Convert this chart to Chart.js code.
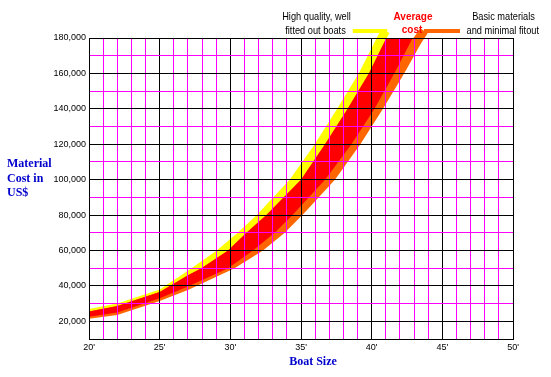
<!DOCTYPE html>
<html>
<head>
<meta charset="utf-8">
<script src="https://cdn.jsdelivr.net/npm/chart.js@4.4.1/dist/chart.umd.min.js"></script>
<style>
html,body{margin:0;padding:0;background:#fff;}
#wrap{width:551px;height:377px;}
</style>
</head>
<body>
<div id="wrap"><canvas id="c" width="551" height="377"></canvas></div>
<script>
// ---------- data ----------
const sizeTickValues = [20, 25, 30, 35, 40, 45, 50];
const sizeTickLabels = ["20'", "25'", "30'", "35'", "40'", "45'", "50'"];
const costTickValues = [20000, 40000, 60000, 80000, 100000, 120000, 140000, 160000, 180000];
const costTickLabels = ["20,000", "40,000", "60,000", "80,000", "100,000", "120,000", "140,000", "160,000", "180,000"];

// High quality band, upper edge
const highQualityTopSize = [20, 22, 25, 27, 29.04, 30.52, 31.87, 34.2, 35.97, 37.56, 39.08, 40.36];
const highQualityTopCost = [27000, 30000, 38000, 48500, 60000, 70000, 80000, 100000, 120000, 140000, 160000, 180000];
// Average band, upper and lower edges
const averageTopSize = [20, 22, 25, 27, 27.95, 29.84, 31.14, 32.55, 35.0, 36.7, 38.3, 39.8, 41.04];
const averageTopCost = [25600, 28700, 36600, 46000, 50000, 60000, 70000, 80000, 100000, 120000, 140000, 160000, 180000];
const averageBottomSize = [20, 22, 25, 27, 29.84, 31.6, 33.14, 34.4, 36.7, 38.57, 40.2, 41.6, 42.9];
const averageBottomCost = [22600, 25000, 33000, 39600, 50000, 60000, 70000, 80000, 100000, 120000, 140000, 160000, 180000];
// Basic band, lower edge
const basicBottomSize = [20, 22, 25, 27, 30.3, 32.31, 33.85, 35.1, 37.4, 39.2, 40.8, 42.3, 43.7];
const basicBottomCost = [21500, 23500, 31500, 37700, 50000, 60000, 70000, 80000, 100000, 120000, 140000, 160000, 180000];

// Label leader lines above the plot
const highQualityRiserSize = [40.58, 40.98];
const highQualityRiserCost = [178000, 184000];
const highQualityBarSize = [38.66, 41.1];
const highQualityBarCost = [184000, 184000];
const basicRiserSize = [43.17, 43.7];
const basicRiserCost = [178000, 184000];
const basicBarSize = [43.7, 46.25];
const basicBarCost = [184000, 184000];

const seriesNotes = [["High quality, well", "fitted out boats"], ["Average", "cost"], ["Basic materials", "and minimal fitout"]];
const xTitle = "Boat Size";
const yTitleLines = ["Material", "Cost in", "US$"];

// ---------- helpers ----------
function pts(xs, ys) { return xs.map((x, i) => ({x: x, y: ys[i]})); }
function poly(topX, topY, botX, botY) {
  return pts(topX, topY).concat(pts(botX, botY).reverse());
}
const tickFont = {family: "'Liberation Sans', Arial, sans-serif", size: 9};

const BLACK = '#000000';
const MAGENTA = '#ff00ff';
const YELLOW = '#ffff00';
const RED = '#ff0000';
const ORANGE = '#ff6600';

// grid colour per tick index: major (labelled) lines and the frame are black
const xGridColors = [];
for (let v = 20; v <= 50; v++) xGridColors.push(sizeTickValues.includes(v) ? BLACK : MAGENTA);
const yGridColors = [];
for (let v = 10000; v <= 180000; v += 10000) yGridColors.push((v === 10000 || costTickValues.includes(v)) ? BLACK : MAGENTA);

function band(data, color) {
  return {data: data, showLine: true, fill: 'shape', backgroundColor: color, borderWidth: 0,
          pointRadius: 0, tension: 0};
}
function leader(data, color, w) {
  return {data: data, showLine: true, fill: false, borderColor: color, borderWidth: w,
          borderCapStyle: 'butt', pointRadius: 0, tension: 0, clip: false};
}

const notesPlugin = {
  id: 'notes',
  afterDraw(chart) {
    const ctx = chart.ctx;
    ctx.save();
    ctx.textBaseline = 'middle';
    ctx.fillStyle = '#0000cc';
    ctx.font = "bold 12px 'Liberation Serif', 'Times New Roman', serif";
    ctx.textAlign = 'left';
    yTitleLines.forEach((t, i) => ctx.fillText(t, 7, 164 + i * 14.7));
    ctx.textAlign = 'center';
    ctx.fillText(xTitle, 313, 361.5);
    function scaled(text, cx, cy, font, color, sx) {
      ctx.save();
      ctx.translate(cx, cy);
      ctx.scale(sx, 1);
      ctx.font = font;
      ctx.fillStyle = color;
      ctx.textAlign = 'center';
      ctx.fillText(text, 0, 0);
      ctx.restore();
    }
    const reg = "10.5px 'Liberation Sans', Arial, sans-serif";
    const bold = "bold 10.5px 'Liberation Sans', Arial, sans-serif";
    scaled(seriesNotes[0][0], 316.5, 17.6, reg, BLACK, 0.88);
    scaled(seriesNotes[0][1], 315.5, 31, reg, BLACK, 0.88);
    scaled(seriesNotes[1][0], 413, 17, bold, RED, 0.95);
    scaled(seriesNotes[1][1], 412, 30, bold, RED, 0.95);
    scaled(seriesNotes[2][0], 503.5, 17.6, reg, BLACK, 0.88);
    scaled(seriesNotes[2][1], 502.8, 31, reg, BLACK, 0.88);
    ctx.restore();
  }
};

new Chart(document.getElementById('c'), {
  type: 'scatter',
  data: {
    datasets: [
      band(poly(averageTopSize, averageTopCost, averageBottomSize, averageBottomCost), RED),
      band(poly(averageTopSize, averageTopCost, basicBottomSize, basicBottomCost), ORANGE),
      band(poly(highQualityTopSize, highQualityTopCost, averageBottomSize, averageBottomCost), YELLOW),
      leader(pts(highQualityRiserSize, highQualityRiserCost), YELLOW, 9),
      leader(pts(highQualityBarSize, highQualityBarCost), YELLOW, 4),
      leader(pts(basicRiserSize, basicRiserCost), ORANGE, 9),
      leader(pts(basicBarSize, basicBarCost), ORANGE, 4)
    ]
  },
  options: {
    responsive: false,
    animation: false,
    devicePixelRatio: 1,
    events: [],
    layout: {padding: {top: 38, right: 38, left: 0, bottom: 0}},
    plugins: {legend: {display: false}, tooltip: {enabled: false}},
    scales: {
      x: {
        type: 'linear', min: 20, max: 50,
        afterFit: s => { s.height = 38; },
        ticks: {
          stepSize: 1, autoSkip: false, maxRotation: 0, padding: 3, color: BLACK, font: tickFont,
          callback: v => { const i = sizeTickValues.indexOf(v); return i >= 0 ? sizeTickLabels[i] : ''; }
        },
        grid: {z: 1, drawTicks: false, lineWidth: 1, color: xGridColors},
        border: {display: true, color: BLACK, width: 1, z: 2}
      },
      y: {
        type: 'linear', min: 10000, max: 180000,
        afterFit: s => { s.width = 89; },
        ticks: {
          stepSize: 10000, autoSkip: false, padding: 3, color: BLACK, font: tickFont,
          callback: v => { const i = costTickValues.indexOf(v); return i >= 0 ? costTickLabels[i] : ''; }
        },
        grid: {z: 1, drawTicks: false, lineWidth: 1, color: yGridColors},
        border: {display: true, color: BLACK, width: 1, z: 2}
      }
    }
  },
  plugins: [notesPlugin]
});
</script>
</body>
</html>
